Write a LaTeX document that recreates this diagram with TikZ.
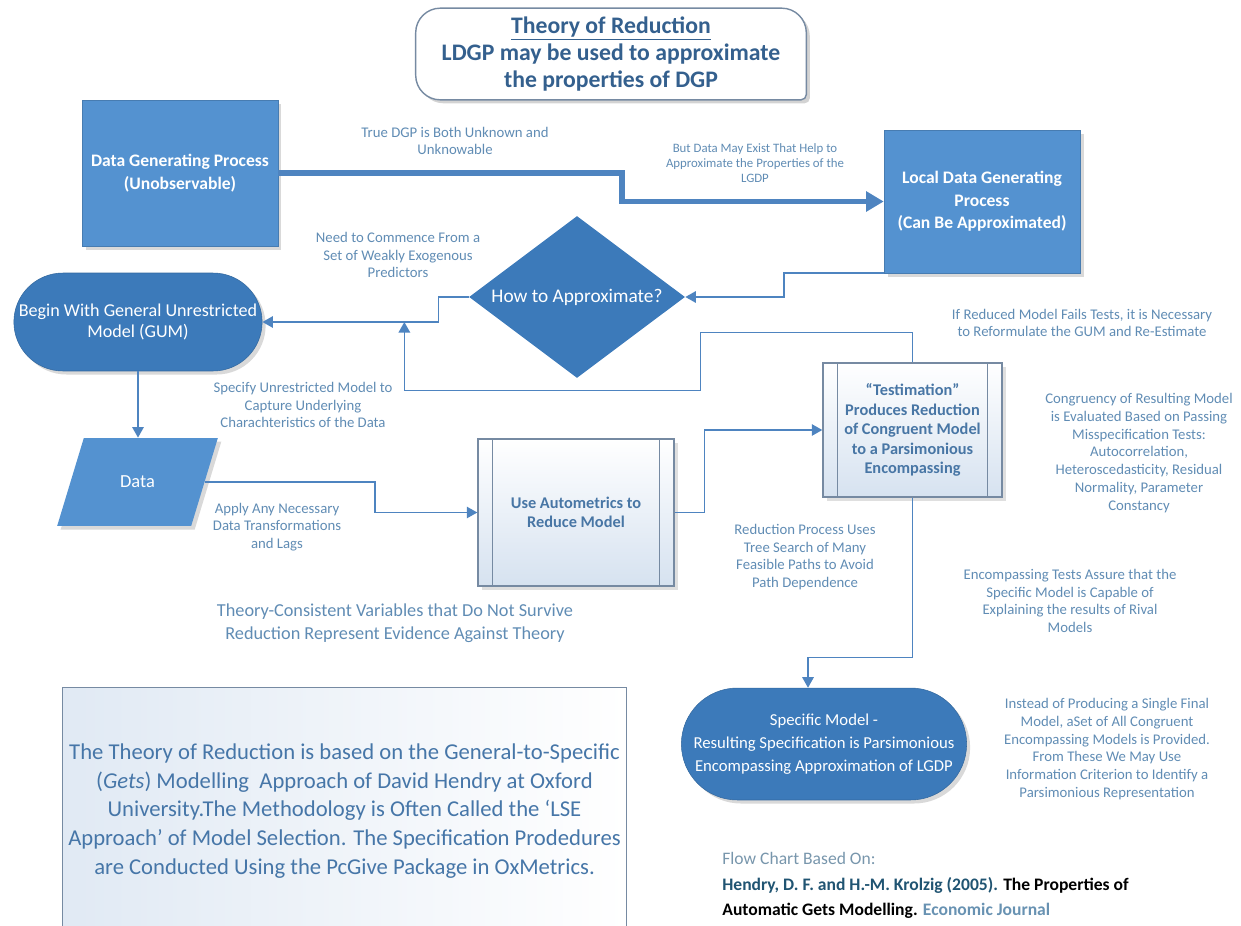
\documentclass[tikz,border=0pt]{standalone}
\usepackage{fontspec}
\setmainfont{Carlito}
\usepackage{tikz}
\usetikzlibrary{arrows.meta}
\usetikzlibrary{shapes,shapes.geometric,shapes.misc}
\usetikzlibrary{shadows,backgrounds}
\definecolor{boxblue}{RGB}{84,146,208}
\definecolor{deepblue}{RGB}{60,122,186}
\definecolor{linkblue}{RGB}{78,132,192}
\definecolor{lblcol}{RGB}{96,140,180}
\definecolor{titlecol}{RGB}{52,96,142}
\definecolor{proctext}{RGB}{72,118,165}
\definecolor{procedge}{RGB}{118,138,162}
\definecolor{procfill}{RGB}{214,226,240}
\definecolor{notetext}{RGB}{70,118,168}
\definecolor{reftitle}{RGB}{120,150,172}
\definecolor{refteal}{RGB}{32,84,114}
\definecolor{refjournal}{RGB}{104,146,178}

\begin{document}
\begin{tikzpicture}[x=0.02cm,y=-0.02cm,
	bluebox/.style={rectangle,fill=boxblue,draw=boxblue!85!black,line width=0.3pt,text=white,align=center,font=\bfseries\fontsize{10}{12.8}\selectfont,drop shadow={opacity=0.3,shadow xshift=2pt,shadow yshift=-2pt}},
	stadium/.style={rounded rectangle,fill=deepblue,draw=deepblue!85!black,line width=0.3pt,text=white,align=center,drop shadow={opacity=0.3,shadow xshift=2pt,shadow yshift=-2pt}},
	procbox/.style={rectangle,draw=procedge,line width=0.8pt,top color=white,bottom color=procfill,text=proctext,align=center,inner sep=1pt,font=\bfseries\fontsize{9.3}{11.1}\selectfont,drop shadow={opacity=0.25,shadow xshift=2pt,shadow yshift=-2pt}},
	lbl/.style={text=lblcol,align=center,inner sep=0pt,font=\fontsize{8.4}{10.1}\selectfont},
	link/.style={draw=linkblue,line width=0.9pt,-{Triangle[length=6pt,width=6.5pt]}},
	biglink/.style={draw=linkblue,line width=3.4pt,-{Triangle[length=10pt,width=11pt]}}
	]
	\useasboundingbox (0,0) rectangle (1241,926);

	\node[font=\bfseries\fontsize{13.5}{15.4}\selectfont,text=titlecol,align=center,minimum width=7.8cm,minimum height=1.82cm] (title) at (611,54) {\underline{Theory of Reduction}\\LDGP may be used to approximate\\the properties of DGP};
	\begin{scope}[on background layer]
		\draw[draw=procedge,line width=0.8pt,fill=white,drop shadow={opacity=0.35,shadow xshift=2pt,shadow yshift=-2pt}] (title.west) [rounded corners=14pt] -- (title.north west) -- (title.north east) [rounded corners=3pt] -- (title.south east) [rounded corners=14pt] -- (title.south west) [sharp corners] -- cycle;
	\end{scope}

	\node[bluebox,minimum width=3.92cm,minimum height=2.92cm] (dgp) at (180,173) {Data Generating Process\\(Unobservable)};
	\node[bluebox,minimum width=3.92cm,minimum height=2.86cm] (ldgp) at (982,201.5) {Local Data Generating\\Process\\(Can Be Approximated)};
	\node[diamond,aspect=1.33,inner sep=1pt,fill=deepblue,text=white,minimum width=4.32cm,minimum height=3.24cm,font=\fontsize{11}{12}\selectfont] (appr) at (577,297) {How to Approximate?};
	\node[stadium,minimum width=5.2cm,minimum height=1.96cm,font=\fontsize{10.3}{11.8}\selectfont] (gum) at (138,322) {Begin With General Unrestricted\\Model (GUM)};
	\node[trapezium,trapezium left angle=64,trapezium right angle=116,trapezium stretches=true,fill=boxblue,text=white,minimum width=3.22cm,minimum height=1.76cm,font=\fontsize{10.5}{12}\selectfont,drop shadow={opacity=0.3,shadow xshift=2pt,shadow yshift=-2pt}] (data) at (137.5,482) {Data};
	\node[procbox,minimum width=3.92cm,minimum height=2.94cm] (autom) at (576,512.5) {Use Autometrics to\\Reduce Model};
	\node[procbox,minimum width=3.58cm,minimum height=2.68cm] (testm) at (912.5,430) {“Testimation”\\Produces Reduction\\of Congruent Model\\to a Parsimonious\\Encompassing};
	\foreach \n in {autom,testm}
		\draw[procedge,line width=0.8pt] ([xshift=0.3cm]\n.north west) -- ([xshift=0.3cm]\n.south west) ([xshift=-0.3cm]\n.north east) -- ([xshift=-0.3cm]\n.south east);
	\node[stadium,minimum width=5.94cm,minimum height=2.24cm,font=\fontsize{9.5}{13}\selectfont] (spec) at (824,744) {Specific Model -\\Resulting Specification is Parsimonious\\Encompassing Approximation of LGDP};

	\draw[biglink] (dgp.east) -- ++(344,0) |- (ldgp.west);
	\draw[link] (ldgp.south west) -- ++(-100,0) |- (appr.east);
	\draw[link] (appr.west) -- ++(-30,0) |- (gum.east);
	\draw[link] (testm.north) -- ++(0,-30) -| ++(-212,58) -| ([xshift=2.84cm]gum.east);
	\draw[link] (gum.south) -- (gum.south |- data.north);
	\draw[link] (data.east) -- ++(170,0) |- (autom.west);
	\draw[link] (autom.east) -- ++(30,0) |- (testm.west);
	\draw[link] (testm.south) -- ++(0,160) -| ([xshift=-0.32cm]spec.north);

	\node[lbl] (lbltrue) at (455,141) {True DGP is Both Unknown and\\Unknowable};
	\node[lbl,font=\fontsize{7.3}{8.5}\selectfont] (lblexist) at (755,163) {But Data May Exist That Help to\\Approximate the Properties of the\\LGDP};
	\node[lbl] (lblcommence) at (398,255) {Need to Commence From a\\Set of Weakly Exogenous\\Predictors};
	\node[lbl] (lblfail) at (1082,323) {If Reduced Model Fails Tests, it is Necessary\\to Reformulate the GUM and Re-Estimate};
	\node[lbl] (lblspecify) at (303,405) {Specify Unrestricted Model to\\Capture Underlying\\Charachteristics of the Data};
	\node[lbl] (lblapply) at (277,527) {Apply Any Necessary\\Data Transformations\\and Lags};
	\node[lbl] (lblcongr) at (1139,453) {Congruency of Resulting Model\\is Evaluated Based on Passing\\Misspecification Tests:\\Autocorrelation,\\Heteroscedasticity, Residual\\Normality, Parameter\\Constancy};
	\node[lbl] (lbltree) at (805,557) {Reduction Process Uses\\Tree Search of Many\\Feasible Paths to Avoid\\Path Dependence};
	\node[lbl] (lblencomp) at (1070,601) {Encompassing Tests Assure that the\\Specific Model is Capable of\\Explaining the results of Rival\\Models};
	\node[lbl] (lblinstead) at (1107,749) {Instead of Producing a Single Final\\Model, aSet of All Congruent\\Encompassing Models is Provided.\\From These We May Use\\Information Criterion to Identify a\\Parsimonious Representation};
	\node[lbl,font=\fontsize{10.4}{13.2}\selectfont] (lbltheory) at (395,623) {Theory-Consistent Variables that Do Not Survive\\Reduction Represent Evidence Against Theory};

	\node[rectangle,draw=procedge,line width=0.6pt,left color=procfill!75,right color=white,text=notetext,align=center,inner xsep=0pt,minimum width=11.3cm,minimum height=4.96cm,font=\fontsize{12.9}{16.3}\selectfont] (note) at (344.5,811) {The Theory of Reduction is based on the General-to-Specific\\(\textit{Gets}) Modelling\ \ Approach of David Hendry at Oxford\\University.The Methodology is Often Called the ‘LSE\\Approach’ of Model Selection. The Specification Prodedures\\are Conducted Using the PcGive Package in OxMetrics.};

	\node[anchor=west,align=left,inner sep=0pt,font=\fontsize{10}{14.7}\selectfont] (cite) at (722,885.5) {\textcolor{reftitle}{Flow Chart Based On:}\\\textbf{\textcolor{refteal}{Hendry, D. F. and H.-M. Krolzig (2005).} The Properties of}\\\textbf{Automatic Gets Modelling. \textcolor{refjournal}{Economic Journal}}};
\end{tikzpicture}
\end{document}
